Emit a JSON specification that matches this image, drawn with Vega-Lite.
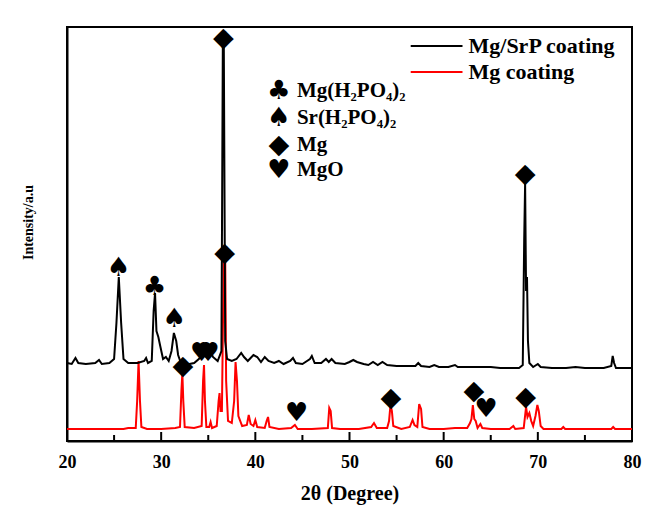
{
  "$schema": "https://vega.github.io/schema/vega-lite/v6.json",
  "width": 565,
  "height": 414,
  "autosize": {"type": "none"},
  "padding": {"left": 67, "top": 27, "right": 14, "bottom": 64},
  "background": "white",
  "config": {
    "view": {"stroke": "black", "strokeWidth": 2},
    "font": "Liberation Serif"
  },
  "datasets": {
    "lines": [
      {"s":"Mg coating","x":20.0,"y":12},{"s":"Mg coating","x":26.0,"y":12},{"s":"Mg coating","x":26.5,"y":13},{"s":"Mg coating","x":27.3,"y":13},{"s":"Mg coating","x":27.45,"y":40},{"s":"Mg coating","x":27.6,"y":80},{"s":"Mg coating","x":27.75,"y":40},{"s":"Mg coating","x":27.9,"y":14},{"s":"Mg coating","x":28.5,"y":12},{"s":"Mg coating","x":30.0,"y":12},{"s":"Mg coating","x":31.5,"y":13},{"s":"Mg coating","x":32.0,"y":14},{"s":"Mg coating","x":32.15,"y":50},{"s":"Mg coating","x":32.25,"y":68},{"s":"Mg coating","x":32.35,"y":40},{"s":"Mg coating","x":32.5,"y":14},{"s":"Mg coating","x":33.5,"y":13},{"s":"Mg coating","x":34.3,"y":15},{"s":"Mg coating","x":34.45,"y":60},{"s":"Mg coating","x":34.55,"y":76},{"s":"Mg coating","x":34.65,"y":40},{"s":"Mg coating","x":34.8,"y":14},{"s":"Mg coating","x":35.1,"y":14},{"s":"Mg coating","x":35.25,"y":19},{"s":"Mg coating","x":35.4,"y":13},{"s":"Mg coating","x":35.9,"y":15},{"s":"Mg coating","x":36.1,"y":40},{"s":"Mg coating","x":36.2,"y":48},{"s":"Mg coating","x":36.3,"y":30},{"s":"Mg coating","x":36.45,"y":30},{"s":"Mg coating","x":36.65,"y":184},{"s":"Mg coating","x":36.8,"y":184},{"s":"Mg coating","x":36.9,"y":60},{"s":"Mg coating","x":37.1,"y":20},{"s":"Mg coating","x":37.5,"y":18},{"s":"Mg coating","x":37.75,"y":40},{"s":"Mg coating","x":37.9,"y":79},{"s":"Mg coating","x":38.05,"y":60},{"s":"Mg coating","x":38.2,"y":25},{"s":"Mg coating","x":38.6,"y":15},{"s":"Mg coating","x":39.1,"y":16},{"s":"Mg coating","x":39.3,"y":26},{"s":"Mg coating","x":39.5,"y":17},{"s":"Mg coating","x":39.8,"y":15},{"s":"Mg coating","x":40.0,"y":21},{"s":"Mg coating","x":40.2,"y":14},{"s":"Mg coating","x":41.0,"y":13},{"s":"Mg coating","x":41.2,"y":20},{"s":"Mg coating","x":41.35,"y":24},{"s":"Mg coating","x":41.5,"y":14},{"s":"Mg coating","x":42.5,"y":12},{"s":"Mg coating","x":43.8,"y":13},{"s":"Mg coating","x":44.2,"y":16},{"s":"Mg coating","x":44.5,"y":12},{"s":"Mg coating","x":46.0,"y":12},{"s":"Mg coating","x":47.7,"y":13},{"s":"Mg coating","x":47.85,"y":33},{"s":"Mg coating","x":48.0,"y":30},{"s":"Mg coating","x":48.15,"y":13},{"s":"Mg coating","x":49.0,"y":12},{"s":"Mg coating","x":51.0,"y":12},{"s":"Mg coating","x":52.3,"y":14},{"s":"Mg coating","x":52.6,"y":18},{"s":"Mg coating","x":52.9,"y":13},{"s":"Mg coating","x":54.0,"y":13},{"s":"Mg coating","x":54.2,"y":20},{"s":"Mg coating","x":54.35,"y":36},{"s":"Mg coating","x":54.5,"y":30},{"s":"Mg coating","x":54.65,"y":15},{"s":"Mg coating","x":55.5,"y":12},{"s":"Mg coating","x":56.4,"y":14},{"s":"Mg coating","x":56.7,"y":21},{"s":"Mg coating","x":56.9,"y":16},{"s":"Mg coating","x":57.2,"y":14},{"s":"Mg coating","x":57.4,"y":37},{"s":"Mg coating","x":57.6,"y":32},{"s":"Mg coating","x":57.75,"y":14},{"s":"Mg coating","x":58.5,"y":12},{"s":"Mg coating","x":60.0,"y":12},{"s":"Mg coating","x":61.2,"y":13},{"s":"Mg coating","x":62.5,"y":13},{"s":"Mg coating","x":62.8,"y":18},{"s":"Mg coating","x":62.95,"y":22},{"s":"Mg coating","x":63.1,"y":36},{"s":"Mg coating","x":63.25,"y":22},{"s":"Mg coating","x":63.4,"y":20},{"s":"Mg coating","x":63.6,"y":13},{"s":"Mg coating","x":63.9,"y":17},{"s":"Mg coating","x":64.1,"y":13},{"s":"Mg coating","x":65.0,"y":12},{"s":"Mg coating","x":67.0,"y":12},{"s":"Mg coating","x":67.4,"y":15},{"s":"Mg coating","x":67.6,"y":12},{"s":"Mg coating","x":68.5,"y":13},{"s":"Mg coating","x":68.75,"y":34},{"s":"Mg coating","x":68.9,"y":24},{"s":"Mg coating","x":69.1,"y":28},{"s":"Mg coating","x":69.3,"y":20},{"s":"Mg coating","x":69.5,"y":15},{"s":"Mg coating","x":69.75,"y":25},{"s":"Mg coating","x":69.95,"y":36},{"s":"Mg coating","x":70.1,"y":30},{"s":"Mg coating","x":70.3,"y":15},{"s":"Mg coating","x":70.6,"y":12},{"s":"Mg coating","x":72.5,"y":12},{"s":"Mg coating","x":72.7,"y":14},{"s":"Mg coating","x":72.9,"y":12},{"s":"Mg coating","x":75.0,"y":12},{"s":"Mg coating","x":77.8,"y":12},{"s":"Mg coating","x":78.0,"y":14},{"s":"Mg coating","x":78.2,"y":12},{"s":"Mg coating","x":80.0,"y":12},
      {"s":"Mg/SrP coating","x":20.0,"y":78},{"s":"Mg/SrP coating","x":20.5,"y":77},{"s":"Mg/SrP coating","x":20.9,"y":83},{"s":"Mg/SrP coating","x":21.2,"y":78},{"s":"Mg/SrP coating","x":22.0,"y":77},{"s":"Mg/SrP coating","x":23.0,"y":78},{"s":"Mg/SrP coating","x":23.4,"y":81},{"s":"Mg/SrP coating","x":23.7,"y":77},{"s":"Mg/SrP coating","x":24.5,"y":78},{"s":"Mg/SrP coating","x":25.0,"y":82},{"s":"Mg/SrP coating","x":25.25,"y":118},{"s":"Mg/SrP coating","x":25.5,"y":164},{"s":"Mg/SrP coating","x":25.75,"y":118},{"s":"Mg/SrP coating","x":26.0,"y":82},{"s":"Mg/SrP coating","x":26.5,"y":78},{"s":"Mg/SrP coating","x":27.5,"y":78},{"s":"Mg/SrP coating","x":28.2,"y":80},{"s":"Mg/SrP coating","x":28.4,"y":83},{"s":"Mg/SrP coating","x":28.6,"y":78},{"s":"Mg/SrP coating","x":29.0,"y":80},{"s":"Mg/SrP coating","x":29.2,"y":130},{"s":"Mg/SrP coating","x":29.35,"y":148},{"s":"Mg/SrP coating","x":29.5,"y":110},{"s":"Mg/SrP coating","x":29.7,"y":104},{"s":"Mg/SrP coating","x":29.9,"y":95},{"s":"Mg/SrP coating","x":30.2,"y":82},{"s":"Mg/SrP coating","x":30.5,"y":84},{"s":"Mg/SrP coating","x":30.8,"y":80},{"s":"Mg/SrP coating","x":31.1,"y":90},{"s":"Mg/SrP coating","x":31.35,"y":108},{"s":"Mg/SrP coating","x":31.6,"y":100},{"s":"Mg/SrP coating","x":31.8,"y":86},{"s":"Mg/SrP coating","x":32.1,"y":78},{"s":"Mg/SrP coating","x":32.5,"y":76},{"s":"Mg/SrP coating","x":33.0,"y":77},{"s":"Mg/SrP coating","x":33.5,"y":78},{"s":"Mg/SrP coating","x":34.0,"y":82},{"s":"Mg/SrP coating","x":34.5,"y":88},{"s":"Mg/SrP coating","x":34.8,"y":84},{"s":"Mg/SrP coating","x":35.2,"y":90},{"s":"Mg/SrP coating","x":35.5,"y":84},{"s":"Mg/SrP coating","x":36.0,"y":80},{"s":"Mg/SrP coating","x":36.4,"y":90},{"s":"Mg/SrP coating","x":36.55,"y":400},{"s":"Mg/SrP coating","x":36.65,"y":400},{"s":"Mg/SrP coating","x":36.8,"y":100},{"s":"Mg/SrP coating","x":37.0,"y":82},{"s":"Mg/SrP coating","x":37.5,"y":80},{"s":"Mg/SrP coating","x":38.0,"y":82},{"s":"Mg/SrP coating","x":38.5,"y":88},{"s":"Mg/SrP coating","x":38.8,"y":84},{"s":"Mg/SrP coating","x":39.2,"y":80},{"s":"Mg/SrP coating","x":39.8,"y":86},{"s":"Mg/SrP coating","x":40.2,"y":84},{"s":"Mg/SrP coating","x":40.6,"y":79},{"s":"Mg/SrP coating","x":41.0,"y":84},{"s":"Mg/SrP coating","x":41.4,"y":80},{"s":"Mg/SrP coating","x":42.0,"y":78},{"s":"Mg/SrP coating","x":42.5,"y":80},{"s":"Mg/SrP coating","x":43.0,"y":77},{"s":"Mg/SrP coating","x":43.7,"y":80},{"s":"Mg/SrP coating","x":44.0,"y":83},{"s":"Mg/SrP coating","x":44.3,"y":78},{"s":"Mg/SrP coating","x":45.0,"y":77},{"s":"Mg/SrP coating","x":45.8,"y":82},{"s":"Mg/SrP coating","x":46.0,"y":85},{"s":"Mg/SrP coating","x":46.3,"y":78},{"s":"Mg/SrP coating","x":47.0,"y":78},{"s":"Mg/SrP coating","x":47.5,"y":82},{"s":"Mg/SrP coating","x":47.8,"y":79},{"s":"Mg/SrP coating","x":48.1,"y":82},{"s":"Mg/SrP coating","x":48.5,"y":78},{"s":"Mg/SrP coating","x":49.5,"y":77},{"s":"Mg/SrP coating","x":50.0,"y":79},{"s":"Mg/SrP coating","x":50.4,"y":81},{"s":"Mg/SrP coating","x":50.8,"y":79},{"s":"Mg/SrP coating","x":51.5,"y":77},{"s":"Mg/SrP coating","x":52.0,"y":76},{"s":"Mg/SrP coating","x":52.5,"y":79},{"s":"Mg/SrP coating","x":53.0,"y":76},{"s":"Mg/SrP coating","x":53.5,"y":79},{"s":"Mg/SrP coating","x":54.0,"y":76},{"s":"Mg/SrP coating","x":55.0,"y":75},{"s":"Mg/SrP coating","x":56.0,"y":75},{"s":"Mg/SrP coating","x":57.0,"y":75},{"s":"Mg/SrP coating","x":57.3,"y":78},{"s":"Mg/SrP coating","x":57.6,"y":75},{"s":"Mg/SrP coating","x":58.5,"y":74},{"s":"Mg/SrP coating","x":59.0,"y":76},{"s":"Mg/SrP coating","x":59.5,"y":74},{"s":"Mg/SrP coating","x":60.5,"y":74},{"s":"Mg/SrP coating","x":61.2,"y":76},{"s":"Mg/SrP coating","x":61.5,"y":74},{"s":"Mg/SrP coating","x":62.5,"y":74},{"s":"Mg/SrP coating","x":64.0,"y":74},{"s":"Mg/SrP coating","x":65.0,"y":74},{"s":"Mg/SrP coating","x":66.0,"y":73},{"s":"Mg/SrP coating","x":67.0,"y":73},{"s":"Mg/SrP coating","x":68.0,"y":73},{"s":"Mg/SrP coating","x":68.4,"y":76},{"s":"Mg/SrP coating","x":68.55,"y":200},{"s":"Mg/SrP coating","x":68.65,"y":258},{"s":"Mg/SrP coating","x":68.75,"y":150},{"s":"Mg/SrP coating","x":68.85,"y":164},{"s":"Mg/SrP coating","x":68.95,"y":100},{"s":"Mg/SrP coating","x":69.1,"y":78},{"s":"Mg/SrP coating","x":69.5,"y":74},{"s":"Mg/SrP coating","x":70.0,"y":77},{"s":"Mg/SrP coating","x":70.3,"y":74},{"s":"Mg/SrP coating","x":71.5,"y":73},{"s":"Mg/SrP coating","x":73.0,"y":73},{"s":"Mg/SrP coating","x":74.0,"y":74},{"s":"Mg/SrP coating","x":75.0,"y":73},{"s":"Mg/SrP coating","x":76.0,"y":73},{"s":"Mg/SrP coating","x":77.0,"y":73},{"s":"Mg/SrP coating","x":77.8,"y":75},{"s":"Mg/SrP coating","x":77.95,"y":85},{"s":"Mg/SrP coating","x":78.1,"y":78},{"s":"Mg/SrP coating","x":78.3,"y":73},{"s":"Mg/SrP coating","x":79.0,"y":73},{"s":"Mg/SrP coating","x":80.0,"y":73}
    ],
    "markers": [
      {"x":36.6,"y":403,"sym":"◆"},
      {"x":25.5,"y":173,"sym":"♠"},
      {"x":29.3,"y":154,"sym":"♣"},
      {"x":31.4,"y":122,"sym":"♠"},
      {"x":34.3,"y":88,"sym":"♥"},
      {"x":35.0,"y":88,"sym":"♥"},
      {"x":32.3,"y":75,"sym":"◆"},
      {"x":36.75,"y":188,"sym":"◆"},
      {"x":44.4,"y":28,"sym":"♥"},
      {"x":54.4,"y":43,"sym":"◆"},
      {"x":63.2,"y":50,"sym":"◆"},
      {"x":64.5,"y":32,"sym":"♥"},
      {"x":68.7,"y":44,"sym":"◆"},
      {"x":68.65,"y":267,"sym":"◆"}
    ],
    "symlegend": [
      {"x":42.5,"y":350,"sym":"♣","label":"Mg(H₂PO₄)₂"},
      {"x":42.5,"y":323,"sym":"♠","label":"Sr(H₂PO₄)₂"},
      {"x":42.5,"y":296,"sym":"◆","label":"Mg"},
      {"x":42.5,"y":271,"sym":"♥","label":"MgO"}
    ],
    "linelegend": [
      {"s":"Mg/SrP coating","x":56.5,"x2":62.0,"y":395},
      {"s":"Mg coating","x":56.5,"x2":62.0,"y":369}
    ],
    "major": [{"t":30},{"t":40},{"t":50},{"t":60},{"t":70}],
    "minor": [{"t":25},{"t":35},{"t":45},{"t":55},{"t":65},{"t":75}]
  },
  "layer": [
    {
      "data": {"name": "lines"},
      "mark": {"type": "line", "strokeWidth": 2, "interpolate": "linear"},
      "encoding": {
        "x": {
          "field": "x", "type": "quantitative",
          "scale": {"domain": [20, 80], "nice": false, "zero": false},
          "axis": {
            "values": [20,30,40,50,60,70,80],
            "ticks": false,
            "domainColor": "black",
            "domainWidth": 2,
            "grid": false,
            "labelFont": "Liberation Serif",
            "labelFontWeight": "bold",
            "labelFontSize": 18,
            "labelColor": "black",
            "labelPadding": 12,
            "labelFlush": false,
            "title": "2θ (Degree)",
            "titleFont": "Liberation Serif",
            "titleFontWeight": "bold",
            "titleFontSize": 20,
            "titleColor": "black",
            "titlePadding": 12
          }
        },
        "y": {
          "field": "y", "type": "quantitative",
          "scale": {"domain": [0, 414], "nice": false},
          "axis": {
            "ticks": false,
            "labels": false,
            "grid": false,
            "domainColor": "black",
            "domainWidth": 2,
            "title": "Intensity/a.u",
            "titleFont": "Liberation Serif",
            "titleFontWeight": "bold",
            "titleFontSize": 14,
            "titleColor": "black",
            "titlePadding": 32,
            "titleY": 195
          }
        },
        "color": {
          "field": "s", "type": "nominal",
          "scale": {"domain": ["Mg/SrP coating", "Mg coating"], "range": ["black", "#ff0000"]},
          "legend": null
        }
      }
    },
    {
      "data": {"name": "major"},
      "mark": {"type": "rule", "strokeWidth": 2, "color": "black"},
      "encoding": {
        "x": {"field": "t", "type": "quantitative"},
        "y": {"datum": 0},
        "y2": {"datum": 9}
      }
    },
    {
      "data": {"name": "minor"},
      "mark": {"type": "rule", "strokeWidth": 2, "color": "black"},
      "encoding": {
        "x": {"field": "t", "type": "quantitative"},
        "y": {"datum": 0},
        "y2": {"datum": 6}
      }
    },
    {
      "data": {"name": "markers"},
      "mark": {"type": "text", "font": "DejaVu Sans", "baseline": "middle", "align": "center", "color": "black"},
      "encoding": {
        "x": {"field": "x", "type": "quantitative"},
        "y": {"field": "y", "type": "quantitative"},
        "text": {"field": "sym"},
        "size": {"field": "sym", "type": "nominal", "scale": {"domain": ["◆","♠","♣","♥"], "range": [27, 26, 34, 24]}, "legend": null}
      }
    },
    {
      "data": {"name": "symlegend"},
      "mark": {"type": "text", "font": "DejaVu Sans", "baseline": "middle", "align": "center", "color": "black"},
      "encoding": {
        "x": {"field": "x", "type": "quantitative"},
        "y": {"field": "y", "type": "quantitative"},
        "text": {"field": "sym"},
        "size": {"field": "sym", "type": "nominal", "scale": {"domain": ["◆","♠","♣","♥"], "range": [24, 26, 34, 26]}, "legend": null}
      }
    },
    {
      "data": {"name": "symlegend"},
      "mark": {"type": "text", "font": "Liberation Serif", "fontWeight": "bold", "fontSize": 21, "baseline": "middle", "align": "left", "dx": 18, "color": "black"},
      "encoding": {
        "x": {"field": "x", "type": "quantitative"},
        "y": {"field": "y", "type": "quantitative"},
        "text": {"field": "label"}
      }
    },
    {
      "data": {"name": "linelegend"},
      "mark": {"type": "rule", "strokeWidth": 2},
      "encoding": {
        "x": {"field": "x", "type": "quantitative"},
        "x2": {"field": "x2"},
        "y": {"field": "y", "type": "quantitative"},
        "color": {"field": "s", "type": "nominal", "legend": null}
      }
    },
    {
      "data": {"name": "linelegend"},
      "mark": {"type": "text", "font": "Liberation Serif", "fontWeight": "bold", "fontSize": 22, "baseline": "middle", "align": "left", "dx": 6, "color": "black"},
      "encoding": {
        "x": {"field": "x2", "type": "quantitative"},
        "y": {"field": "y", "type": "quantitative"},
        "text": {"field": "s"}
      }
    }
  ]
}
